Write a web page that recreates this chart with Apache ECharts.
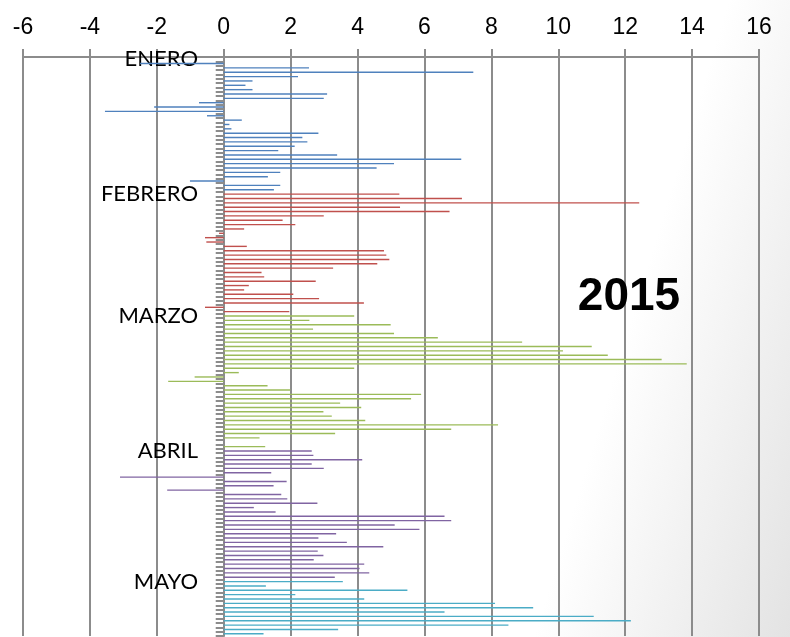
<!DOCTYPE html>
<html>
<head>
<meta charset="utf-8">
<script src="https://cdn.jsdelivr.net/npm/echarts@6/dist/echarts.min.js"></script>
<style>
html, body { margin: 0; padding: 0; }
#chart { width: 790px; height: 637px; background: linear-gradient(107deg, #ffffff 74%, #e3e3e3 100%); }
</style>
</head>
<body>
<div id="chart"></div>
<script>
// daily values, one array per month (Jan 1 - May 13, 2015)
const monthNames = ['ENERO', 'FEBRERO', 'MARZO', 'ABRIL', 'MAYO'];
const monthColors = ['#4f81bd', '#c0504d', '#9bbb59', '#8064a2', '#4bacc6'];

const enero = [0, -2.5, 2.55, 7.46, 2.22, 0.86, 0.65, 0.86, 3.09, 2.99,
    -0.74, -2.08, -3.55, -0.5, 0.54, 0.17, 0.23, 2.83, 2.35, 2.5,
    2.12, 1.63, 3.39, 7.1, 5.09, 4.57, 1.69, 1.32, -1.01, 1.69, 1.5];
const febrero = [5.25, 7.12, 12.42, 5.27, 6.75, 2.99, 1.76, 2.14, 0.61, -0.14,
    -0.56, -0.52, 0.69, 4.79, 4.86, 4.95, 4.59, 3.27, 1.13, 1.21,
    2.75, 0.75, 0.61, 2.08, 2.85, 4.19, -0.56, 1.96];
const marzo = [3.9, 2.56, 4.99, 2.67, 5.09, 6.4, 8.92, 11.0, 10.14, 11.48,
    13.09, 13.84, 3.9, 0.45, -0.87, -1.66, 1.31, 1.99, 5.9, 5.6,
    3.48, 4.11, 2.98, 3.23, 4.23, 8.2, 6.8, 3.33, 1.07, 0, 1.24];
const abril = [2.63, 2.68, 4.14, 2.63, 2.99, 1.42, -3.1, 1.88, 1.49, -1.69,
    1.72, 1.9, 2.8, 0.9, 1.55, 6.6, 6.8, 5.11, 5.85, 3.36,
    2.83, 3.68, 4.77, 2.81, 2.98, 2.69, 4.2, 4.06, 4.35, 3.32];
const mayo = [3.56, 1.26, 5.49, 2.14, 4.2, 8.11, 9.25, 6.6, 11.06, 12.17,
    8.51, 3.42, 1.19];

const months = [enero, febrero, marzo, abril, mayo];
const yearLabel = '2015';

// category list: month name on day 1, day number + month otherwise
const days = [];
const monthStarts = [];
const barData = [];
months.forEach((vals, m) => {
    monthStarts.push(days.length);
    vals.forEach((v, d) => {
        days.push(d === 0 ? monthNames[m] : (d + 1) + ' ' + monthNames[m]);
        barData.push({ value: v, itemStyle: { color: monthColors[m] } });
    });
});

const gridGray = '#8c8c8c';
const chart = echarts.init(document.getElementById('chart'));
chart.setOption({
    animation: false,
    grid: { left: 23, right: 31, top: 57, bottom: 1, containLabel: false, outerBoundsMode: 'none' },
    xAxis: {
        type: 'value',
        position: 'top',
        min: -6,
        max: 16,
        interval: 2,
        axisLine: { show: true, lineStyle: { color: gridGray, width: 2 } },
        axisTick: { show: true, length: 8, lineStyle: { color: gridGray, width: 2 } },
        axisLabel: { fontFamily: 'Liberation Sans', fontSize: 23, color: '#000', margin: 18 },
        splitLine: { show: true, lineStyle: { color: gridGray, width: 2 } }
    },
    yAxis: {
        type: 'category',
        inverse: true,
        data: days,
        axisLine: { show: true, onZero: true, lineStyle: { color: gridGray, width: 2 } },
        axisTick: { show: true, interval: 0, length: 8, lineStyle: { color: gridGray, width: 2 } },
        axisLabel: {
            interval: (i) => monthStarts.includes(i),
            // labels stay at the grid's left edge, pull them in next to the zero line
            margin: -175,
            fontFamily: 'Lato',
            fontSize: 22,
            color: '#000'
        },
        splitLine: { show: false }
    },
    graphic: [{
        type: 'text',
        x: 629,
        y: 297,
        z: 10,
        style: {
            text: yearLabel,
            font: 'bold 46px "Liberation Sans"',
            fill: '#000',
            textAlign: 'center',
            textVerticalAlign: 'middle',
            align: 'center',
            verticalAlign: 'middle'
        }
    }],
    series: [{
        type: 'bar',
        data: barData,
        barWidth: 1.4,
        itemStyle: { borderWidth: 0 },
        silent: true
    }]
});
</script>
</body>
</html>
